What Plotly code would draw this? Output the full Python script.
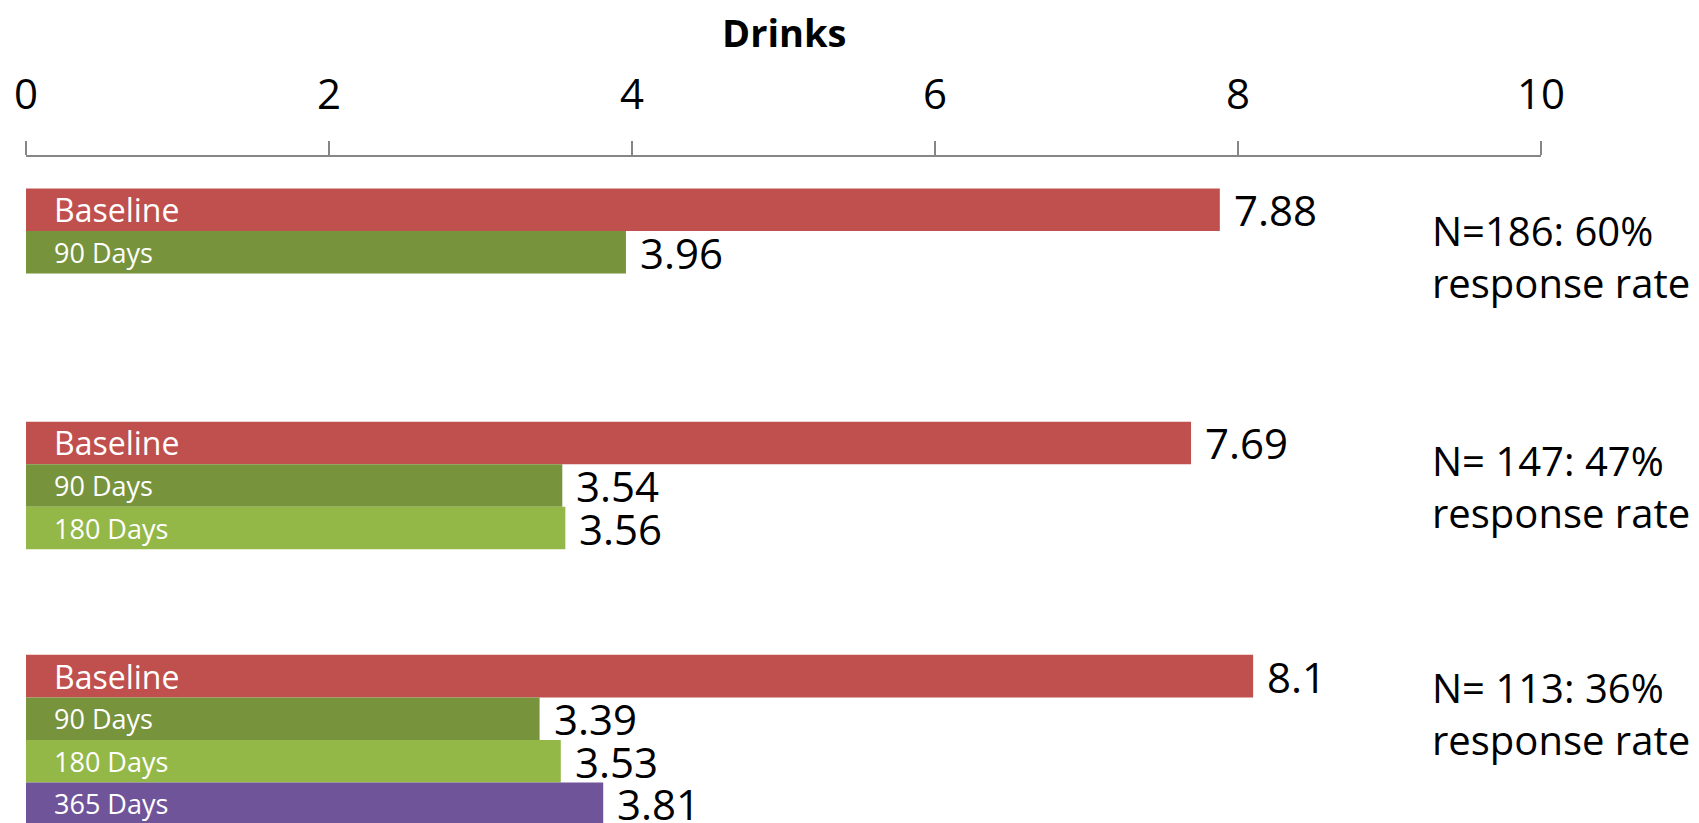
import plotly.graph_objects as go

# Survey waves and mean drinks reported at each follow-up
groups = ["Cohort 1", "Cohort 2", "Cohort 3"]
series_names = ["Baseline", "90 Days", "180 Days", "365 Days"]
baseline = [7.88, 7.69, 8.1]
days_90 = [3.96, 3.54, 3.39]
days_180 = [None, 3.56, 3.53]
days_365 = [None, None, 3.81]
response_notes = [
    "N=186: 60%<br>response rate",
    "N= 147: 47%<br>response rate",
    "N= 113: 36%<br>response rate",
]
x_ticks = [0, 2, 4, 6, 8, 10]

series_values = [baseline, days_90, days_180, days_365]
colors = ["#C0504D", "#77933C", "#93B847", "#70549A"]
label_sizes = [32, 27, 27, 27]

FONT = "Open Sans"
BARGAP = 0.27
n_series = len(series_names)
slot = (1 - BARGAP) / n_series

fig = go.Figure()
for name, vals, col in zip(series_names, series_values, colors):
    fig.add_trace(go.Bar(
        name=name, y=groups, x=vals, orientation="h",
        marker=dict(color=col, line=dict(width=0)),
        hoverinfo="x+name",
    ))

annotations = []
for k, (name, vals, size) in enumerate(zip(series_names, series_values, label_sizes)):
    for i, v in enumerate(vals):
        if v is None:
            continue
        ypos = i + (k - (n_series - 1) / 2) * slot
        # series name inside the bar, near its base
        annotations.append(dict(
            x=0, y=ypos, xref="x", yref="y", text=name, showarrow=False,
            xanchor="left", yanchor="middle", xshift=26,
            font=dict(family=FONT, size=size, color="white"),
        ))
        # value just past the end of the bar
        annotations.append(dict(
            x=v, y=ypos, xref="x", yref="y", text=f"{v:g}", showarrow=False,
            xanchor="left", yanchor="middle", xshift=12,
            font=dict(family=FONT, size=42, color="black"),
        ))

note_y = [0.851, 0.506, 0.164]
for txt, yp in zip(response_notes, note_y):
    annotations.append(dict(
        x=0.927, y=yp, xref="paper", yref="paper", text=txt, showarrow=False,
        xanchor="left", yanchor="middle", align="left",
        font=dict(family=FONT, size=40, color="black"),
    ))

annotations.append(dict(
    x=0.5, y=1.187, xref="paper", yref="paper", text="<b>Drinks</b>",
    showarrow=False, xanchor="center", yanchor="middle",
    font=dict(family=FONT, size=38, color="black"),
))

fig.update_layout(
    width=1699, height=823,
    margin=dict(l=26, r=158, t=157, b=0, pad=0),
    paper_bgcolor="white", plot_bgcolor="white",
    barmode="group", bargap=BARGAP, bargroupgap=0,
    showlegend=False,
    annotations=annotations,
    font=dict(family=FONT, color="black"),
    xaxis=dict(
        side="top", range=[0, 10], tickvals=x_ticks,
        ticks="outside", ticklen=14, tickwidth=1.5, tickcolor="#868686",
        showline=True, linecolor="#868686", linewidth=1.5,
        showgrid=False, zeroline=False,
        tickfont=dict(family=FONT, size=42, color="black"),
        ticklabelstandoff=15,
    ),
    yaxis=dict(
        range=[2.356, -0.5], showticklabels=False, showgrid=False,
        zeroline=False, showline=False, ticks="",
    ),
)

fig.write_html("out.html")
